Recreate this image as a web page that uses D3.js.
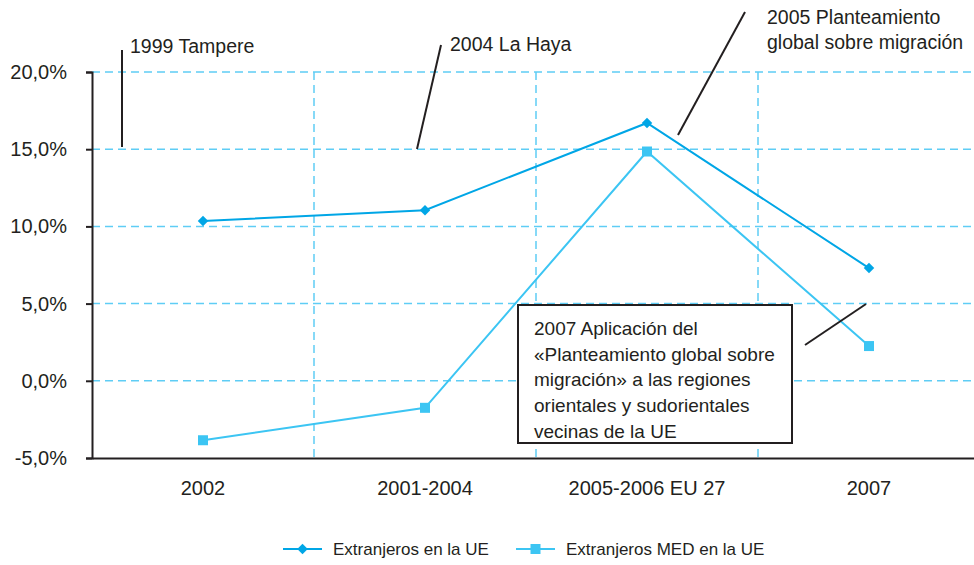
<!DOCTYPE html>
<html>
<head>
<meta charset="utf-8">
<script src="https://cdn.jsdelivr.net/npm/d3@7"></script>
<style>
  body { margin: 0; background: #fff; }
  text { font-family: "Liberation Sans", Arial, sans-serif; fill: #231f20; }
</style>
</head>
<body>
<script>
// chart data
var categories = ["2002", "2001-2004", "2005-2006 EU 27", "2007"];
var extranjerosUE = [10.35, 11.05, 16.7, 7.3];
var extranjerosMED = [-3.85, -1.75, 14.85, 2.25];
var yTicks = [-5, 0, 5, 10, 15, 20];
var seriesNames = ["Extranjeros en la UE", "Extranjeros MED en la UE"];

var width = 974,
  height = 565;
var margin = { left: 92, top: 72, right: -6, bottom: 107 };

var svg = d3
  .select("body")
  .append("svg")
  .attr("width", width)
  .attr("height", height);

var x = d3
  .scaleBand()
  .domain(categories)
  .range([margin.left, width - margin.right])
  .padding(0);

var y = d3
  .scaleLinear()
  .domain([-5, 20])
  .range([height - margin.bottom, margin.top]);

var gridColor = "#5fcdf5";
var col1 = "#00a6e6";
var col2 = "#3cc5f3";
var fontFam = "Liberation Sans, Arial, sans-serif";

// horizontal dashed grid
svg
  .selectAll("line.hgrid")
  .data(yTicks.filter(d => d > -5))
  .enter()
  .append("line")
  .attr("class", "hgrid")
  .attr("x1", margin.left)
  .attr("x2", width)
  .attr("y1", d => y(d))
  .attr("y2", d => y(d))
  .attr("stroke", gridColor)
  .attr("stroke-width", 1.5)
  .attr("stroke-dasharray", "8,5");

// vertical dashed grid between categories
svg
  .selectAll("line.vgrid")
  .data(categories.slice(1))
  .enter()
  .append("line")
  .attr("class", "vgrid")
  .attr("x1", d => x(d))
  .attr("x2", d => x(d))
  .attr("y1", y(20))
  .attr("y2", y(-5))
  .attr("stroke", gridColor)
  .attr("stroke-width", 1.5)
  .attr("stroke-dasharray", "8,5");

// y axis
var yAxis = d3
  .axisLeft(y)
  .tickValues(yTicks)
  .tickSize(6)
  .tickPadding(19)
  .tickFormat(d => d.toFixed(1).replace(".", ",") + "%");

var gy = svg
  .append("g")
  .attr("transform", "translate(" + margin.left + ",0)")
  .call(yAxis);
gy.select(".domain").attr("stroke", "#231f20").attr("stroke-width", 2);
gy.selectAll(".tick line").attr("stroke", "#231f20").attr("stroke-width", 2);
gy.selectAll(".tick text")
  .attr("font-size", 20)
  .attr("fill", "#231f20")
  .style("font-family", fontFam);

// x axis
var xAxis = d3.axisBottom(x).tickSize(0).tickPadding(23);
var gx = svg
  .append("g")
  .attr("transform", "translate(0," + y(-5) + ")")
  .call(xAxis);
gx.select(".domain").attr("stroke", "#231f20").attr("stroke-width", 2);
gx.selectAll(".tick text")
  .attr("font-size", 20)
  .attr("fill", "#231f20")
  .style("font-family", fontFam);

function cx(d, i) {
  return x(categories[i]) + x.bandwidth() / 2;
}

var line = d3
  .line()
  .x((d, i) => cx(d, i))
  .y(d => y(d));

// series 2 (MED)
svg
  .append("path")
  .datum(extranjerosMED)
  .attr("d", line)
  .attr("fill", "none")
  .attr("stroke", col2)
  .attr("stroke-width", 2);
svg
  .selectAll("rect.m2")
  .data(extranjerosMED)
  .enter()
  .append("rect")
  .attr("class", "m2")
  .attr("x", (d, i) => cx(d, i) - 5)
  .attr("y", d => y(d) - 5)
  .attr("width", 10)
  .attr("height", 10)
  .attr("fill", col2);

// series 1
svg
  .append("path")
  .datum(extranjerosUE)
  .attr("d", line)
  .attr("fill", "none")
  .attr("stroke", col1)
  .attr("stroke-width", 2);
var diamond = d3.symbol().type(d3.symbolDiamond2).size(70);
svg
  .selectAll("path.m1")
  .data(extranjerosUE)
  .enter()
  .append("path")
  .attr("class", "m1")
  .attr("d", diamond)
  .attr("transform", (d, i) => "translate(" + cx(d, i) + "," + y(d) + ")")
  .attr("fill", col1);

// annotations
var notes = [
  { line: [122, 50, 122, 147], text: ["1999 Tampere"], tx: 130, ty: 53 },
  { line: [441, 45, 417, 149], text: ["2004 La Haya"], tx: 450, ty: 51 },
  {
    line: [745, 12, 678, 135],
    text: ["2005 Planteamiento", "global sobre migración"],
    tx: 767,
    ty: 24
  }
];
notes.forEach(function(n) {
  svg
    .append("line")
    .attr("x1", n.line[0])
    .attr("y1", n.line[1])
    .attr("x2", n.line[2])
    .attr("y2", n.line[3])
    .attr("stroke", "#231f20")
    .attr("stroke-width", 2);
  var t = svg
    .append("text")
    .attr("x", n.tx)
    .attr("y", n.ty)
    .attr("font-size", 19.5);
  n.text.forEach(function(s, i) {
    t.append("tspan")
      .attr("x", n.tx)
      .attr("dy", i == 0 ? 0 : 25)
      .text(s);
  });
});

// boxed note
svg
  .append("line")
  .attr("x1", 805)
  .attr("y1", 345)
  .attr("x2", 866)
  .attr("y2", 304)
  .attr("stroke", "#231f20")
  .attr("stroke-width", 2);
svg
  .append("rect")
  .attr("x", 518)
  .attr("y", 305)
  .attr("width", 274)
  .attr("height", 138)
  .attr("fill", "#fff")
  .attr("stroke", "#231f20")
  .attr("stroke-width", 2);
var boxLines = [
  "2007 Aplicación del",
  "«Planteamiento global sobre",
  "migración» a las regiones",
  "orientales y sudorientales",
  "vecinas de la UE"
];
var bt = svg
  .append("text")
  .attr("x", 534)
  .attr("y", 335)
  .attr("font-size", 19);
boxLines.forEach(function(s, i) {
  bt.append("tspan")
    .attr("x", 534)
    .attr("dy", i == 0 ? 0 : 25.7)
    .text(s);
});

// legend
var legend = [
  { name: seriesNames[0], color: col1, x: 283, shape: "diamond" },
  { name: seriesNames[1], color: col2, x: 516, shape: "square" }
];
legend.forEach(function(l) {
  var g = svg.append("g").attr("transform", "translate(" + l.x + ",549)");
  g.append("line")
    .attr("x1", 0)
    .attr("x2", 39)
    .attr("stroke", l.color)
    .attr("stroke-width", 2);
  if (l.shape == "diamond") {
    g.append("path")
      .attr("d", diamond)
      .attr("transform", "translate(19.5,0)")
      .attr("fill", l.color);
  } else {
    g.append("rect")
      .attr("x", 14.5)
      .attr("y", -5)
      .attr("width", 10)
      .attr("height", 10)
      .attr("fill", l.color);
  }
  g.append("text")
    .attr("x", 50)
    .attr("y", 6)
    .attr("font-size", 17)
    .text(l.name);
});
</script>
</body>
</html>
